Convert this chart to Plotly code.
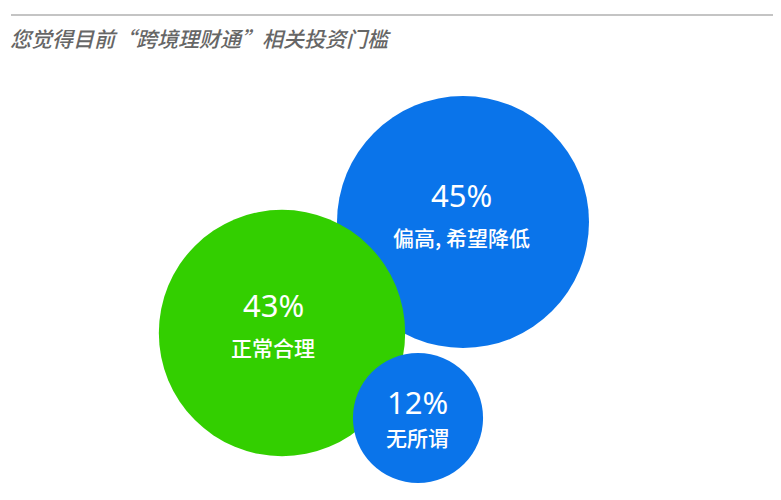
import plotly.graph_objects as go

# Datos
categorias = ["偏高，希望降低", "正常合理", "无所谓"]
etiquetas = ["偏高, 希望降低", "正常合理", "无所谓"]
porcentajes = [45, 43, 12]

TITULO = "您觉得目前“跨境理财通”相关投资门槛"

# Posiciones (px de la imagen) y estilos
centro_x = [463, 282, 418]
centro_y = [222, 333, 418]
colores = ["#0A74EA", "#33CF00", "#0A74EA"]
desp_num = [-27, -28, -16]
desp_lbl = [15, 14, 19]
desp_x = [-2, -9, -1]

W, H = 781, 500
OFF = 8  # margen del body en la pagina
sizeref = 45 / (2 * 126 ** 2)

fig = go.Figure()

# orden de dibujo: azul grande, verde, azul pequeño
for i in range(len(porcentajes)):
    fig.add_trace(go.Scatter(
        x=[centro_x[i]],
        y=[centro_y[i]],
        mode="markers",
        marker=dict(
            size=[porcentajes[i]],
            sizemode="area",
            sizeref=sizeref,
            color=colores[i],
            opacity=1,
            line=dict(width=0),
        ),
        name=categorias[i],
        hovertemplate=f"{categorias[i]}: {porcentajes[i]}%<extra></extra>",
        showlegend=False,
    ))

for i in range(len(porcentajes)):
    fig.add_annotation(
        x=centro_x[i] + desp_x[i], y=centro_y[i] + desp_num[i],
        text=f"{porcentajes[i]}%", showarrow=False,
        font=dict(family="Noto Sans, sans-serif", size=31, color="white"),
        xanchor="center", yanchor="middle",
    )
    fig.add_annotation(
        x=centro_x[i] + desp_x[i], y=centro_y[i] + desp_lbl[i],
        text=etiquetas[i], showarrow=False,
        font=dict(family="Noto Sans CJK SC", size=21, color="white", weight=500),
        xanchor="center", yanchor="middle",
    )

# titulo y linea superior
fig.add_annotation(
    x=8, y=38, text=f"<i>{TITULO}</i>", showarrow=False,
    font=dict(family="Noto Sans CJK SC", size=21, color="#666666", weight=500),
    xanchor="left", yanchor="middle",
)
fig.add_shape(type="line", x0=11, x1=W + OFF, y0=15, y1=15,
              line=dict(color="#B0B0B0", width=1.5))

fig.update_layout(
    width=W, height=H,
    margin=dict(l=0, r=0, t=0, b=0),
    paper_bgcolor="white",
    plot_bgcolor="white",
    xaxis=dict(range=[OFF, W + OFF], visible=False, fixedrange=True),
    yaxis=dict(range=[H + OFF, OFF], visible=False, fixedrange=True),
)

fig.write_html("out.html")
